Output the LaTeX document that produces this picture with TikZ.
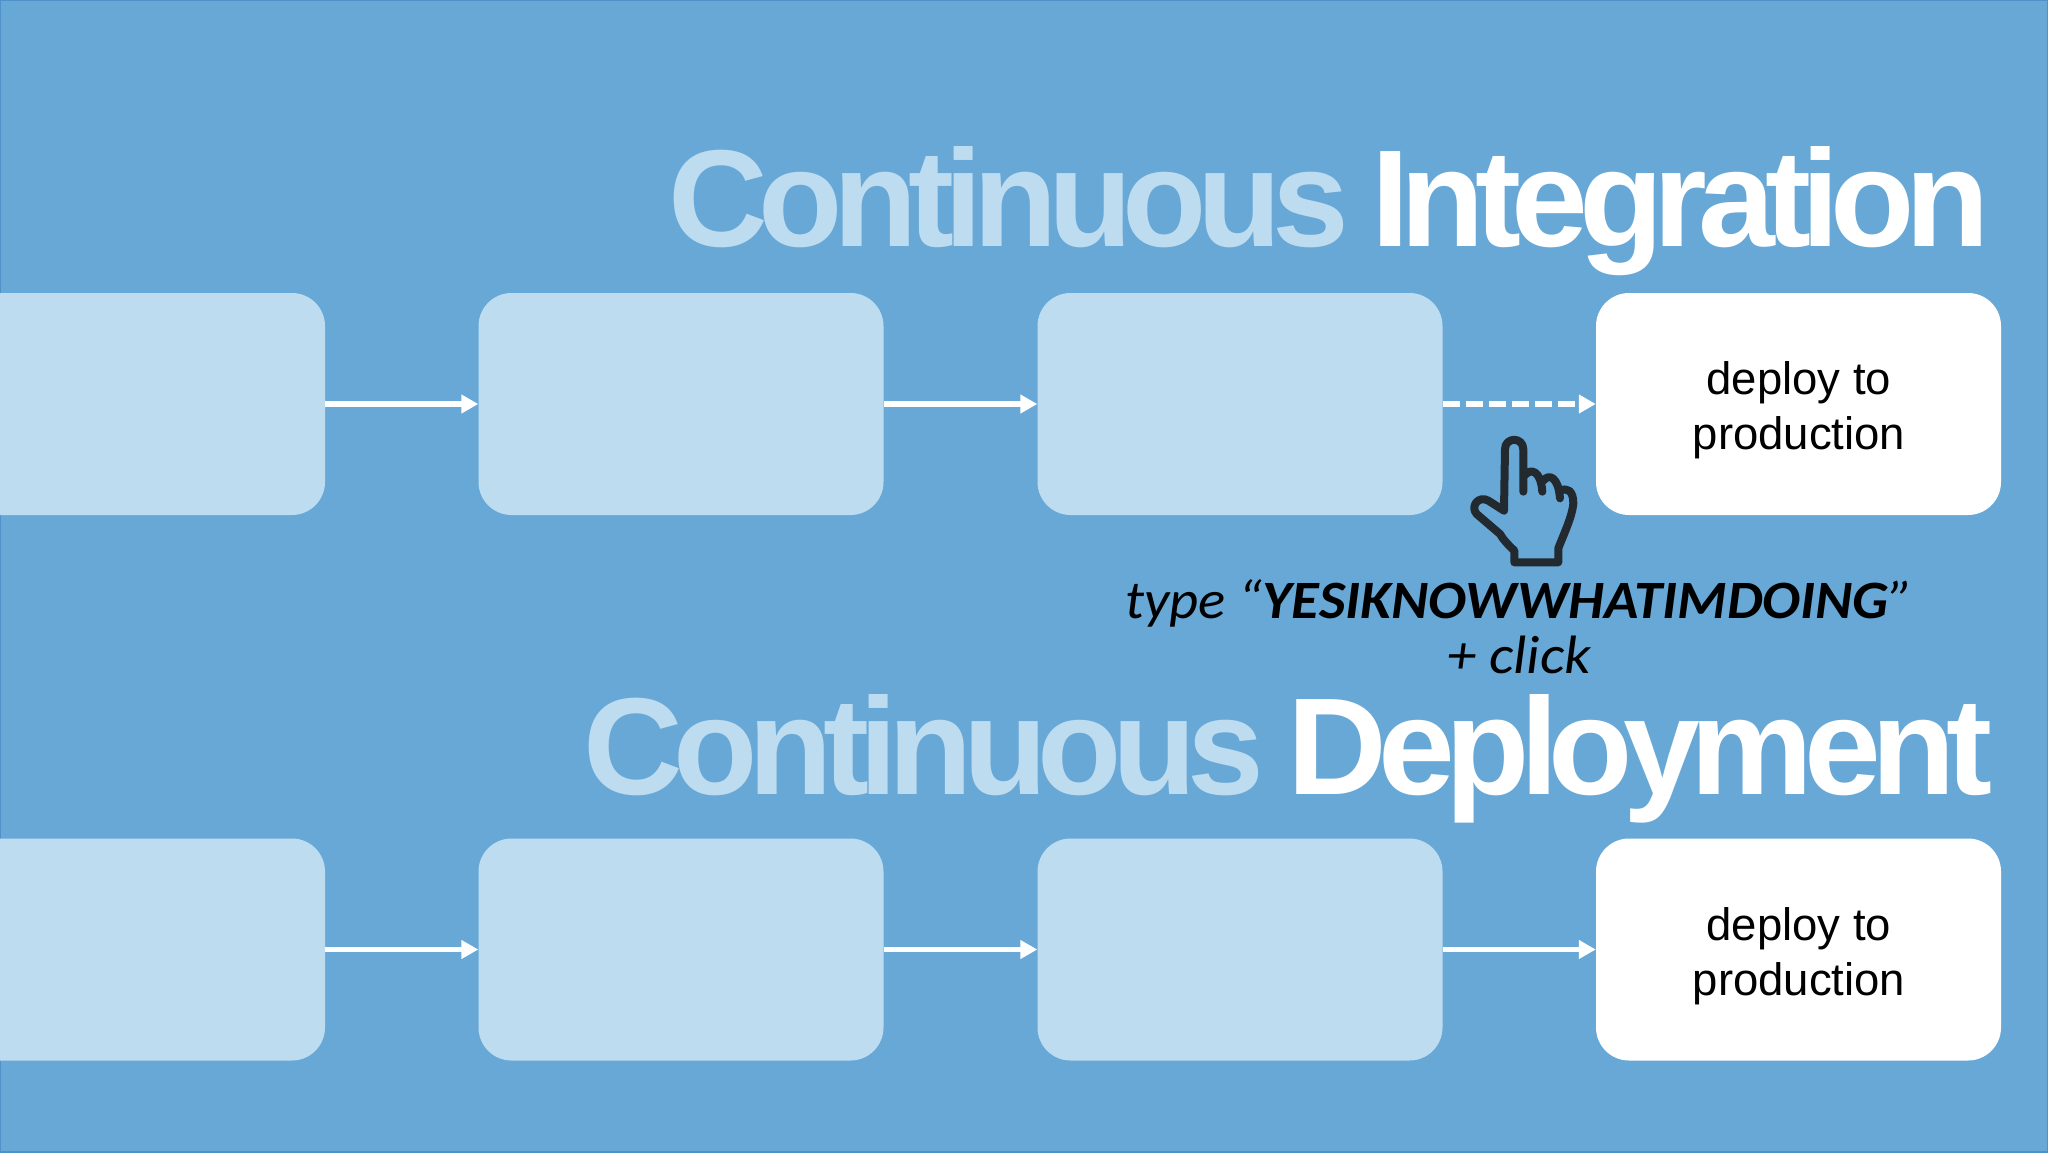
\documentclass[tikz,border=0pt]{standalone}
\usepackage{fontspec}
\setmainfont{Liberation Sans}
\newfontfamily\titlefont[LetterSpace=-6.9]{Liberation Sans Bold}
\newfontfamily\handfont{Carlito}
\usetikzlibrary{arrows.meta}
\definecolor{bgblue}{HTML}{68A8D6}
\definecolor{edgeblue}{HTML}{4F92C9}
\definecolor{paleblue}{HTML}{BEDCF0}
\definecolor{inkdark}{HTML}{222A30}
\tikzset{
  x=1pt,y=-1pt,
  boxbase/.style={rounded corners=33pt,minimum height=222pt,inner sep=0pt},
  palebox/.style={boxbase,fill=paleblue,minimum width=405pt},
  whitebox/.style={boxbase,fill=white,minimum width=405pt},
  firstbox/.style={boxbase,fill=paleblue,minimum width=425pt},
  boxtext/.style={inner sep=0pt,align=center,font=\fontsize{45.5}{55}\selectfont,text=black},
  flow/.style={draw=white,line width=5.5pt,-{Triangle[length=17pt,width=18pt]}},
  flowdash/.style={flow,dash pattern=on 17pt off 6pt},
  titletext/.style={anchor=base west,inner sep=0pt,font=\fontsize{138}{138}\titlefont},
  handtext/.style={anchor=base,inner sep=0pt,text=black},
}
\begin{document}
\begin{tikzpicture}
\useasboundingbox (0,0) rectangle (2048,1152);
\clip (0,0) rectangle (2048,1152);
\fill[bgblue] (0,0) rectangle (2048,1152);
\draw[edgeblue,line width=2pt] (0,0) rectangle (2048,1152);

\node[titletext] (t1) at (668,246) {\textcolor{paleblue}{Continuous}\hspace{-6pt} \textcolor{white}{Integration}};
\node[titletext] (t2) at (583,794) {\textcolor{paleblue}{Continuous}\hspace{-5pt} \textcolor{white}{Deployment}};

\node[firstbox] (a1) at (112.5,404) {};
\node[palebox] (a2) at (681,404) {};
\node[palebox] (a3) at (1240,404) {};
\node[whitebox] (a4) at (1798.5,404) {};
\node[boxtext] (a4t) at (1799,410.5) {deploy to\\production};
\node[firstbox] (b1) at (112.5,949.5) {};
\node[palebox] (b2) at (681,949.5) {};
\node[palebox] (b3) at (1240,949.5) {};
\node[whitebox] (b4) at (1798.5,949.5) {};
\node[boxtext] (b4t) at (1799,956) {deploy to\\production};

\draw[flow] (a1) -- (a2);
\draw[flow] (a2) -- (a3);
\draw[flowdash] (a3) -- (a4);
\draw[flow] (b1) -- (b2);
\draw[flow] (b2) -- (b3);
\draw[flow] (b3) -- (b4);

% hand cursor
\begin{scope}[shift={(1380,360)},x=0.3333pt,y=-0.3333pt]
\draw[inkdark,line width=8pt,line join=round,line cap=round]
  (372,452) -- (375,268) .. controls (375,230) and (430,230) .. (430,268) -- (430,395)
  (435,345) .. controls (452,325) and (482,330) .. (487,395)
  (490,362) .. controls (507,340) and (535,350) .. (540,415)
  (540,392) .. controls (562,382) and (580,392) .. (580,430)
    .. controls (577,470) and (548,530) .. (535,565) -- (535,607) -- (403,607) -- (403,572)
    .. controls (385,555) and (370,540) .. (360,522)
    -- (290,462) .. controls (270,440) and (295,405) .. (325,422) -- (372,452);
\end{scope}

\node[handtext] (h1) at (1519,618.5) {\scalebox{1.05}[1]{\fontsize{54}{54}\handfont\itshape type “\textbf{YESIKNOWWHATIMDOING}”}};
\node[handtext] (h2) at (1519,673.5) {\scalebox{1.08}[1]{\fontsize{54}{54}\handfont\itshape + click}};
\end{tikzpicture}
\end{document}
